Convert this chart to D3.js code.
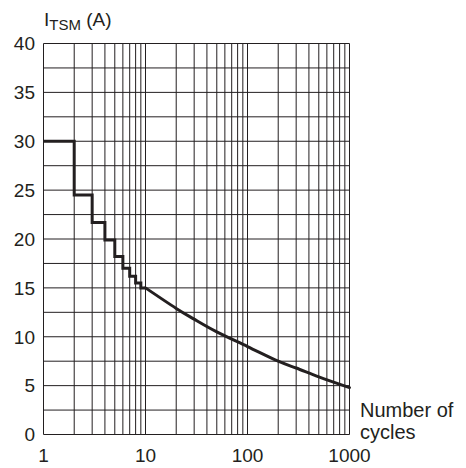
<!DOCTYPE html>
<html>
<head>
<meta charset="utf-8">
<title>ITSM vs number of cycles</title>
<script src="https://d3js.org/d3.v7.min.js"></script>
<style>
  body { margin: 0; background: #fff; }
  text { font-family: "Liberation Sans", Arial, Helvetica, sans-serif; fill: #231f20; }
</style>
</head>
<body>
<script>
// ---- data ----
var xTickLabels = [1, 10, 100, 1000];
var yTickLabels = [0, 5, 10, 15, 20, 25, 30, 35, 40];
var gridCycles = [1,2,3,4,5,6,7,8,9,10,20,30,40,50,60,70,80,90,100,200,300,400,500,600,700,800,900,1000];
var gridCurrent = [0,2.5,5,7.5,10,12.5,15,17.5,20,22.5,25,27.5,30,32.5,35,37.5,40];

// stepped part (1..10 cycles)
var stepCycles = [1, 2, 3, 4, 5, 6, 7, 8, 9, 10];
var stepCurrent = [30, 24.5, 21.7, 19.9, 18.2, 17.0, 16.2, 15.5, 15.0, 15.0];

// smooth part (10..1000 cycles)
var curveCycles = [10, 20, 30, 50, 100, 200, 300, 500, 1000];
var curveCurrent = [15.0, 12.9, 11.8, 10.5, 9.0, 7.5, 6.8, 5.9, 4.8];

var width = 466, height = 468;
var plotLeft = 43.5, plotRight = 349.5, plotTop = 43.5, plotBottom = 434.5;

var svg = d3.select("body").append("svg")
    .attr("width", width)
    .attr("height", height);

var x = d3.scaleLog().domain([1, 1000]).range([plotLeft, plotRight]);
var y = d3.scaleLinear().domain([0, 40]).range([plotBottom, plotTop]);

// grid
var grid = svg.append("g").attr("stroke", "#231f20").attr("stroke-width", 1);
grid.selectAll("line.v").data(gridCycles).enter().append("line")
    .attr("class", "v")
    .attr("x1", function(d){ return x(d); }).attr("x2", function(d){ return x(d); })
    .attr("y1", plotTop).attr("y2", plotBottom);
grid.selectAll("line.h").data(gridCurrent).enter().append("line")
    .attr("class", "h")
    .attr("x1", plotLeft).attr("x2", plotRight)
    .attr("y1", function(d){ return y(d); }).attr("y2", function(d){ return y(d); });

// tick labels
svg.selectAll("text.ylab").data(yTickLabels).enter().append("text")
    .attr("class", "ylab")
    .attr("x", 35)
    .attr("y", function(d){ return y(d); })
    .attr("dy", "0.36em")
    .attr("text-anchor", "end")
    .style("font-size", "19px")
    .text(function(d){ return d; });

svg.selectAll("text.xlab").data(xTickLabels).enter().append("text")
    .attr("class", "xlab")
    .attr("x", function(d){ return x(d); })
    .attr("y", 462)
    .attr("text-anchor", "middle")
    .style("font-size", "19px")
    .text(function(d){ return d; });

// axis titles
var yt = svg.append("text").attr("x", 44).attr("y", 26).style("font-size", "19px");
yt.append("tspan").text("I");
yt.append("tspan").attr("dy", 4).style("font-size", "15px").text("TSM");
yt.append("tspan").attr("dy", -4).text(" (A)");

svg.append("text").attr("x", 360).attr("y", 417).style("font-size", "20px").text("Number of");
svg.append("text").attr("x", 360).attr("y", 439).style("font-size", "20px").text("cycles");

// curve
var stepLine = d3.line()
    .x(function(d, i){ return x(stepCycles[i]); })
    .y(function(d){ return y(d); })
    .curve(d3.curveStepAfter);

var smoothLine = d3.line()
    .x(function(d, i){ return x(curveCycles[i]); })
    .y(function(d){ return y(d); })
    .curve(d3.curveNatural);

svg.append("path")
    .attr("d", stepLine(stepCurrent))
    .attr("fill", "none").attr("stroke", "#231f20")
    .attr("stroke-width", 3).attr("stroke-linejoin", "miter");

svg.append("path")
    .attr("d", smoothLine(curveCurrent))
    .attr("fill", "none").attr("stroke", "#231f20")
    .attr("stroke-width", 3).attr("stroke-linecap", "round");
</script>
</body>
</html>
